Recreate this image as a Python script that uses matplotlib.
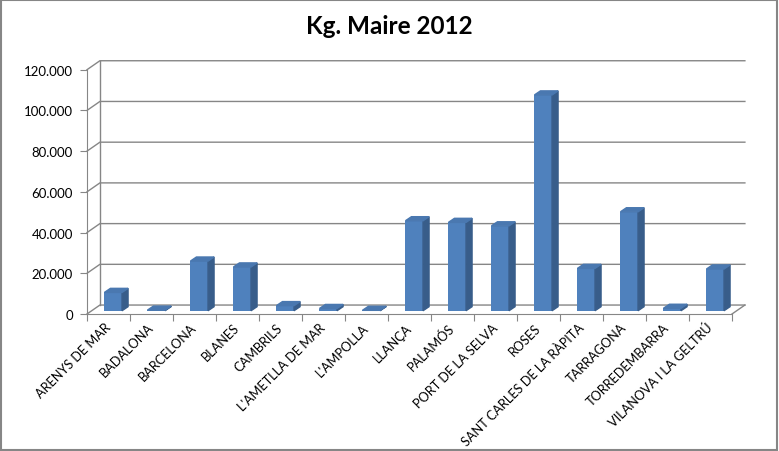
import numpy as np
import matplotlib.pyplot as plt
from matplotlib.patches import Polygon, Rectangle

plt.rcParams['font.family'] = ['Lato', 'DejaVu Sans']

# Data
cities = ['ARENYS DE MAR', 'BADALONA', 'BARCELONA', 'BLANES', 'CAMBRILS',
          "L'AMETLLA DE MAR", "L'AMPOLLA", 'LLANÇA', 'PALAMÓS',
          'PORT DE LA SELVA', 'ROSES', 'SANT CARLES DE LA RÀPITA',
          'TARRAGONA', 'TORREDEMBARRA', 'VILANOVA I LA GELTRÚ']
kg = [9000, 300, 24400, 21500, 2500, 1100, 200, 44200, 43400, 41700,
      106000, 20800, 48600, 1200, 20500]
yticks = [0, 20000, 40000, 60000, 80000, 100000, 120000]
ytick_labels = ['0', '20.000', '40.000', '60.000', '80.000', '100.000', '120.000']

grid_col = '#868686'
front_col = '#4F81BD'
side_col = '#385D8A'
top_col = '#4A78B0'

# fake 3D depth (data units)
DX, DY = 0.30, 4400      # back wall offset
SX, SY = 0.11, 1600      # bar position inside the depth
BX, BY = 0.14, 2000      # bar depth
w = 0.41

fig = plt.figure(figsize=(7.79, 4.52), dpi=100)
ax = fig.add_axes([87/779, (452-315)/452, 645/779, (315-70.7)/452])
ax.set_xlim(-0.5, 14.5)
ax.set_ylim(0, 120000)
ax.patch.set_alpha(0)

x = np.arange(len(cities))
x0, x1 = -0.5, len(cities) - 0.5

# back wall gridlines + left wall diagonals
for y in yticks:
    ax.plot([x0, x0 + DX, x1 + DX], [y, y + DY, y + DY], color=grid_col,
            lw=1, clip_on=False, zorder=1)
ax.plot([x0 + DX, x0 + DX], [DY, yticks[-1] + DY], color=grid_col, lw=1,
        clip_on=False, zorder=1)
ax.plot([x1, x1 + DX], [0, DY], color=grid_col, lw=1, clip_on=False, zorder=1)

# bars
tops = np.array(kg) + SY
ax.bar(x + SX, kg, width=w, bottom=SY, color=front_col, clip_on=False, zorder=3)
for xi, t in zip(x + SX, tops):
    l, r = xi - w/2, xi + w/2
    ax.add_patch(Polygon([(r, SY), (r + BX, SY + BY), (r + BX, t + BY), (r, t)],
                         closed=True, color=side_col, clip_on=False, zorder=3))
    ax.add_patch(Polygon([(l, t), (r, t), (r + BX, t + BY), (l + BX, t + BY)],
                         closed=True, color=top_col, clip_on=False, zorder=3))

# axes
for s in ['top', 'right']:
    ax.spines[s].set_visible(False)
for s in ['left', 'bottom']:
    ax.spines[s].set_color(grid_col)
ax.set_yticks(yticks, ytick_labels)
ax.set_xticks(np.arange(x0, x1 + 0.01, 1), [''] * (len(cities) + 1))
ax.set_xticks(x, cities, minor=True)
ax.tick_params(axis='y', length=5, color=grid_col, labelsize=9.5, pad=5)
ax.tick_params(axis='x', which='major', length=5, color=grid_col)
ax.tick_params(axis='x', which='minor', length=0, labelsize=9.2, pad=8)
for lab in ax.get_xticklabels(minor=True):
    lab.set_rotation(45)
    lab.set_ha('right')
    lab.set_va('center')
    lab.set_rotation_mode('anchor')

fig.text(0.5, 1 - 27/452, 'Kg. Maire 2012', ha='center', va='center',
         fontsize=17.5, fontweight='bold')

fig.patches.append(Rectangle((0.001, 0.002), 0.997, 0.996, transform=fig.transFigure,
                             fill=False, edgecolor=grid_col, lw=1.5))

fig.savefig('out.png', dpi=100)
